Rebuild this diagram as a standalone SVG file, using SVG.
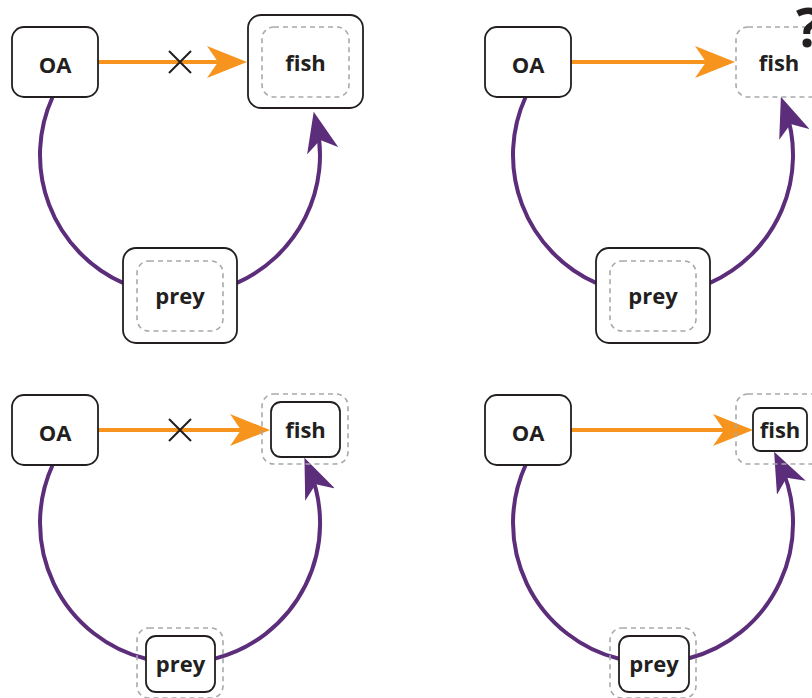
<svg xmlns="http://www.w3.org/2000/svg" width="812" height="698" viewBox="0 0 812 698">
<style>
.box{fill:#fff;stroke:#231f20;stroke-width:1.8}
.dash{fill:none;stroke:#a7a9ac;stroke-width:1.6;stroke-dasharray:5 4}
.lbl{font-family:"Open Sans","Liberation Sans",sans-serif;font-weight:700;font-size:22px;fill:#231f20;text-anchor:middle}
.oa{fill:none;stroke:#f7941d;stroke-width:4}
.pu{fill:none;stroke:#5b2d7a;stroke-width:4}
.x{stroke:#231f20;stroke-width:2;fill:none}
</style>
<defs>
<marker id="ahO" viewBox="0 0 40 32" refX="28" refY="16" markerWidth="40" markerHeight="32" markerUnits="userSpaceOnUse" orient="auto"><path d="M0,0 L40,16 L0,32 L11,16 Z" fill="#f7941d"/></marker>
<marker id="ahP" viewBox="0 0 40 32" refX="28" refY="16" markerWidth="40" markerHeight="32" markerUnits="userSpaceOnUse" orient="auto"><path d="M0,0 L40,16 L0,32 L11,16 Z" fill="#5b2d7a"/></marker>
</defs>

<g id="connectors">
<!-- panel 1 -->
<path class="oa" d="M98,62 H235" marker-end="url(#ahO)"/>
<path class="x" d="M169,51 L191,73 M169,73 L191,51"/>
<path class="pu" d="M52.6,97 A140,140 0 0 0 123,282.9"/>
<path class="pu" d="M237,282.9 A140,140 0 0 0 316.4,123.5" marker-end="url(#ahP)"/>
<!-- panel 2 -->
<path class="oa" d="M571,62 H723" marker-end="url(#ahO)"/>
<path class="pu" d="M525.6,97 A140,140 0 0 0 596,282.9"/>
<path class="pu" d="M710,282.9 A140,140 0 0 0 784.9,108" marker-end="url(#ahP)"/>
<!-- panel 3 -->
<path class="oa" d="M98,430 H258" marker-end="url(#ahO)"/>
<path class="x" d="M169,419 L191,441 M169,441 L191,419"/>
<path class="pu" d="M52.6,465 A140,140 0 0 0 146,658.8"/>
<path class="pu" d="M215,658.6 A140,140 0 0 0 309.1,468.7" marker-end="url(#ahP)"/>
<!-- panel 4 -->
<path class="oa" d="M571,430 H741" marker-end="url(#ahO)"/>
<path class="pu" d="M525.6,465 A140,140 0 0 0 619,658.8"/>
<path class="pu" d="M689,658.3 A140,140 0 0 0 779.3,462.5" marker-end="url(#ahP)"/>
</g>

<!-- panel 1 nodes -->
<g id="oa1"><rect class="box" x="12" y="27" width="86" height="70" rx="12"/><text class="lbl" x="55" y="73">OA</text></g>
<g id="fish1"><rect class="box" x="248" y="15" width="115" height="93" rx="13"/><rect class="dash" x="262" y="27" width="87" height="70" rx="12"/><text class="lbl" x="305.5" y="71">fish</text></g>
<g id="prey1"><rect class="box" x="123" y="248" width="114" height="95" rx="13"/><rect class="dash" x="137" y="261" width="86" height="70" rx="12"/><text class="lbl" x="180" y="304">prey</text></g>

<!-- panel 2 nodes -->
<g id="oa2"><rect class="box" x="485" y="27" width="86" height="70" rx="12"/><text class="lbl" x="528" y="73">OA</text></g>
<g id="fish2"><rect class="dash" x="736" y="27" width="87" height="70" rx="12"/><text class="lbl" x="779" y="71">fish</text><text class="lbl" x="796" y="47" style="font-size:54px;text-anchor:start">?</text></g>
<g id="prey2"><rect class="box" x="596" y="248" width="114" height="95" rx="13"/><rect class="dash" x="610" y="261" width="86" height="70" rx="12"/><text class="lbl" x="653" y="304">prey</text></g>

<!-- panel 3 nodes -->
<g id="oa3"><rect class="box" x="12" y="395" width="86" height="70" rx="12"/><text class="lbl" x="55" y="441">OA</text></g>
<g id="fish3"><rect class="dash" x="262" y="394" width="86" height="70" rx="12"/><rect class="box" x="271" y="402" width="69" height="55" rx="10"/><text class="lbl" x="305.5" y="438">fish</text></g>
<g id="prey3"><rect class="dash" x="137" y="628" width="86" height="70" rx="12"/><rect class="box" x="146" y="636" width="69" height="56" rx="10"/><text class="lbl" x="180.5" y="672">prey</text></g>

<!-- panel 4 nodes -->
<g id="oa4"><rect class="box" x="485" y="395" width="86" height="70" rx="12"/><text class="lbl" x="528" y="441">OA</text></g>
<g id="fish4"><rect class="dash" x="736" y="394" width="87" height="70" rx="12"/><rect class="box" x="753" y="408" width="54" height="43" rx="7"/><text class="lbl" x="780" y="438">fish</text></g>
<g id="prey4"><rect class="dash" x="610" y="628" width="86" height="70" rx="12"/><rect class="box" x="619" y="636" width="70" height="56" rx="10"/><text class="lbl" x="654" y="672">prey</text></g>
</svg>
